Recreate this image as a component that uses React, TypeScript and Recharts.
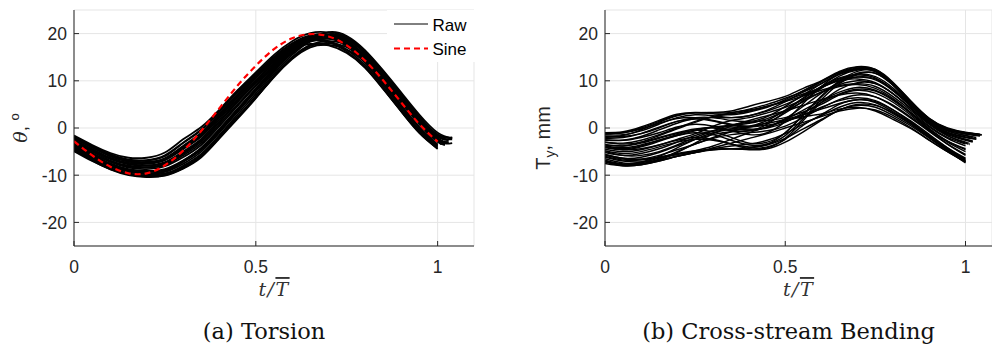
import React from 'react';
import { LineChart, Line, XAxis, YAxis, CartesianGrid, Legend } from 'recharts';

// Normalised time grid (t / T-bar)
const T_GRID = [0, 0.05, 0.1, 0.15, 0.2, 0.25, 0.3, 0.35, 0.4, 0.45, 0.5, 0.55, 0.6, 0.65, 0.7, 0.75, 0.8, 0.85, 0.9, 0.95, 1.0];

const X_TICKS = [0, 0.5, 1];
const Y_TICKS = [-20, -10, 0, 10, 20];

// (a) Torsion — fitted sine (deg)
const SINE_VALUES = [-2.8, -5.8, -8.2, -9.6, -9.6, -7.9, -4.8, -0.6, 4.2, 9.0, 13.2, 16.7, 19.0, 19.9, 19.4, 17.5, 14.3, 10.1, 5.4, 0.8, -2.9];

// (a) Torsion — raw cycles (deg)
const TORSION_RAW = [
  [-4.5, -6.8, -8.6, -9.8, -10.3, -10, -8.5, -6, -2, 2.3, 6.8, 11.5, 15.5, 18.5, 20.3, 19.5, 16.5, 12.2, 7.5, 2.8, -1],
  [-1.6, -3.6, -5.3, -6.3, -6.3, -5.2, -2.4, 0.2, 3.9, 8, 11.8, 15.5, 18.4, 20.1, 20.2, 18.6, 15.3, 11, 6.3, 1.8, -2],
  [-3.2, -5.3, -7.1, -8.2, -8.4, -7.8, -5.8, -3.2, 0.8, 5, 9.1, 13.2, 16.8, 18.9, 19.3, 18, 14.9, 10.5, 5.6, 0.8, -2.8],
  [-4.8, -6.6, -8.2, -9.3, -9.8, -9.6, -8.2, -5.8, -1.8, 2.4, 6.4, 10.8, 14.6, 17.1, 17.6, 16.6, 14, 10, 5.4, 0.8, -2.9],
  [-2, -4, -5.8, -7, -7.2, -6.4, -3.8, -1, 3, 7.2, 10.8, 14.2, 16.8, 17.8, 17.5, 15.9, 12.8, 8.3, 3.5, -1.1, -4.4],
  [-3.8, -6, -7.9, -9.1, -9.6, -9.3, -7.6, -5, -1, 3.4, 7.8, 12.3, 16.2, 19, 20.2, 19.2, 16, 11.6, 6.7, 2, -1.8],
  [-2.5, -4.5, -6.3, -7.4, -7.6, -6.8, -4.5, -1.8, 2.2, 6.5, 10.5, 14.5, 17.6, 19.5, 19.6, 17.8, 14.2, 9.6, 4.6, 0, -3.7],
  [-4.2, -6.3, -8.1, -9.3, -9.7, -9.2, -7.2, -4.5, -0.5, 3.8, 8, 12.2, 15.9, 18.3, 18.9, 17.9, 15, 10.8, 6, 1.3, -2.6],
  [-2.8, -4.8, -6.6, -7.7, -8, -7.4, -5.3, -2.6, 1.4, 5.8, 9.8, 13.8, 17.2, 19.2, 19.5, 18.2, 15.3, 11.2, 6.4, 1.7, -2.1],
  [-3.5, -5.6, -7.5, -8.7, -9.1, -8.7, -6.9, -4.3, -0.4, 3.9, 8.2, 12.6, 16.3, 18.6, 19.4, 18.7, 15.8, 11.7, 7, 2.3, -1.5],
  [-1.9, -3.8, -5.6, -6.8, -6.9, -6, -3.2, -0.5, 3.4, 7.6, 11.2, 14.8, 17.3, 18.5, 18.2, 16.2, 12.9, 8.4, 3.5, -1, -4.4],
  [-4.6, -6.9, -8.8, -10, -10.4, -10.1, -8.6, -6.2, -2.2, 2, 6.3, 11, 15, 17.6, 18.4, 17.6, 14.8, 10.8, 6.2, 1.6, -2.3],
  [-4.0, -6.2, -8.0, -9.2, -9.6, -9.1, -7.0, -4.2, -0.2, 4.1, 8.4, 12.7, 16.4, 18.8, 19.7, 18.9, 15.9, 11.6, 6.8, 2.0, -1.8],
  [-2.2, -4.2, -6.0, -7.1, -7.3, -6.5, -4.0, -1.3, 2.7, 7.0, 11.0, 14.9, 17.9, 19.6, 19.7, 18.0, 14.5, 9.9, 4.9, 0.2, -3.5],
  [-3.0, -5.0, -6.9, -8.0, -8.3, -7.6, -5.5, -2.8, 1.2, 5.5, 9.5, 13.5, 17.0, 19.0, 19.4, 18.1, 15.0, 10.7, 5.9, 1.1, -2.6],
  [-4.4, -6.6, -8.5, -9.6, -10.1, -9.8, -8.0, -5.5, -1.5, 2.9, 7.3, 11.9, 15.9, 18.7, 19.8, 19.2, 16.3, 12.0, 7.2, 2.4, -1.4],
  [-1.8, -3.9, -5.6, -6.7, -6.8, -5.8, -3.1, -0.3, 3.6, 7.8, 11.5, 15.1, 17.9, 19.3, 19.2, 17.3, 13.8, 9.2, 4.3, -0.4, -3.9],
  [-3.6, -5.8, -7.7, -8.9, -9.3, -8.9, -7.1, -4.6, -0.7, 3.6, 7.9, 12.3, 16.0, 18.4, 19.0, 18.2, 15.4, 11.4, 6.8, 2.1, -1.7],
  [-2.6, -4.6, -6.4, -7.6, -7.9, -7.2, -5.0, -2.3, 1.8, 6.1, 10.1, 14.1, 17.4, 19.4, 19.8, 18.4, 15.0, 10.5, 5.6, 0.9, -2.9],
  [-4.9, -7.0, -8.7, -9.8, -10.2, -9.9, -8.4, -6.0, -2.0, 2.2, 6.5, 11.0, 14.9, 17.4, 18.0, 17.1, 14.4, 10.5, 6.0, 1.4, -2.4],
  [-3.3, -5.4, -7.2, -8.4, -8.7, -8.1, -6.2, -3.6, 0.4, 4.7, 8.9, 13.0, 16.5, 18.6, 19.0, 17.8, 14.8, 10.6, 5.9, 1.2, -2.4],
  [-2.1, -4.1, -5.9, -7.1, -7.4, -6.7, -4.3, -1.6, 2.5, 6.8, 10.7, 14.4, 17.2, 18.6, 18.4, 16.6, 13.3, 8.8, 3.9, -0.7, -4.1],
];
// final point of each raw torsion cycle beyond t = 1 ([t, value] or null)
const TORSION_TAILS: (number[] | null)[] = [
  [1.04, -2.2], null, [1.02, -3.6], [1.04, -3.2], null, [1.03, -2.5],
  null, [1.02, -3.1], [1.02, -2.9], [1.04, -2.1], null, [1.03, -3.0],
  [1.04, -2.4], null, [1.02, -3.3], [1.04, -2.0], null, [1.03, -2.6],
  [1.01, -3.3], [1.03, -3.0], [1.02, -3.4], null,
];

// (b) Cross-stream bending — raw cycles (mm)
const BENDING_RAW = [
  [-1.0, -0.8, 0.2, 1.6, 2.9, 3.3, 3.2, 3.3, 4.0, 5.0, 6.3, 7.8, 9.8, 11.8, 12.9, 12.3, 9.3, 5.3, 1.8, -0.2, -1.0],
  [-1.5, -1.4, -0.6, 0.8, 2.2, 2.8, 2.6, 2.2, 2.6, 3.8, 5.6, 7.6, 9.4, 11.4, 12.5, 12.0, 9.0, 5.0, 1.6, -0.4, -1.2],
  [-2.5, -2.6, -2.0, -1.0, 0.2, 0.8, 0.4, -0.5, -0.6, 0.8, 3.5, 6.2, 8.6, 11.0, 12.3, 12.0, 9.2, 5.4, 2.0, -0.1, -1.0],
  [-3.5, -3.8, -3.2, -2.2, -1.2, -0.5, -0.8, -2.0, -3.2, -3.0, -1.0, 2.8, 6.6, 9.8, 11.6, 11.6, 9.0, 5.2, 1.6, -0.6, -1.6],
  [-4.5, -5.0, -4.6, -3.6, -2.4, -1.2, 0.4, 1.6, 2.2, 3.2, 4.4, 6.0, 7.6, 8.8, 9.2, 8.4, 6.2, 3.2, 0.2, -2.2, -3.8],
  [-7.0, -7.8, -7.4, -6.4, -5.6, -4.8, -3.8, -2.4, -1.0, 0.2, 1.5, 2.4, 3.0, 4.0, 4.4, 3.6, 1.8, -0.2, -2.6, -5.0, -7.2],
  [-6.0, -6.8, -6.8, -6.2, -5.4, -4.8, -4.5, -4.4, -4.5, -4.0, -2.4, 0.6, 2.8, 5.0, 6.0, 5.4, 3.4, 1.0, -1.8, -4.4, -6.6],
  [-7.5, -8.0, -7.8, -6.8, -5.2, -3.2, -1.2, 0.4, 1.6, 2.6, 3.6, 4.8, 6.0, 7.0, 7.4, 6.6, 4.6, 2.0, -0.8, -3.4, -5.6],
  [-3.0, -3.2, -2.6, -1.4, 0.0, 1.4, 2.4, 3.0, 3.6, 4.6, 5.8, 7.2, 8.6, 10.0, 10.4, 9.6, 7.2, 4.0, 0.8, -1.4, -2.6],
  [-6.5, -7.4, -7.6, -7.0, -6.0, -5.2, -4.6, -4.4, -4.6, -4.4, -3.0, -0.8, 1.6, 3.8, 4.8, 4.4, 2.6, 0.4, -2.2, -4.8, -7.4],
  [-2.0, -1.6, -0.4, 1.2, 2.6, 3.2, 3.3, 3.6, 4.6, 5.6, 6.7, 8.4, 10.0, 12.0, 13.0, 12.4, 9.4, 5.4, 1.8, -0.2, -1.0],
  [-5.0, -5.8, -5.8, -5.0, -3.6, -2.0, -0.6, 0.6, 1.2, 1.6, 2.2, 3.4, 5.0, 7.0, 8.0, 7.4, 5.4, 2.6, -0.4, -3.0, -5.0],
  [-1.2, -1.0, -0.2, 1.0, 2.0, 2.2, 1.6, 0.8, 0.4, 1.2, 3.2, 5.8, 8.4, 10.4, 11.2, 10.6, 8.0, 4.6, 1.2, -1.0, -2.0],
  [-6.8, -7.6, -7.2, -6.0, -4.2, -2.4, -1.0, -0.2, 0.2, 0.6, 1.4, 2.8, 4.4, 5.8, 6.4, 5.8, 3.8, 1.2, -1.6, -4.2, -6.4],
  [-4.0, -4.6, -4.4, -3.6, -2.6, -2.0, -2.4, -3.4, -4.4, -4.2, -2.2, 1.6, 5.4, 8.2, 9.6, 9.4, 7.2, 4.0, 0.8, -1.6, -3.0],
  [-3.0, -3.4, -3.0, -2.0, -1.0, -0.2, 0.0, -0.6, -1.4, -1.0, 1.4, 5.2, 8.8, 11.4, 12.6, 12.4, 9.6, 5.6, 2.0, 0.0, -0.9],
  [-1.3, -1.0, 0.0, 1.4, 2.7, 3.2, 3.0, 2.8, 3.4, 4.4, 6.0, 7.9, 9.9, 11.7, 12.7, 12.2, 9.2, 5.2, 1.7, -0.3, -1.1],
  [-2.2, -2.0, -1.2, 0.2, 1.4, 1.9, 1.5, 0.6, 0.4, 1.6, 3.8, 6.4, 8.8, 10.6, 11.4, 10.9, 8.4, 4.8, 1.4, -0.9, -1.9],
  [-4.2, -4.6, -4.0, -2.8, -1.6, -0.6, 0.2, 0.6, 1.0, 2.0, 3.6, 5.6, 7.6, 9.2, 10.0, 9.4, 7.2, 4.0, 0.8, -1.6, -3.2],
  [-7.2, -8.0, -7.8, -7.0, -6.0, -5.2, -4.4, -3.8, -3.4, -2.6, -1.2, 0.8, 2.6, 4.4, 5.4, 4.9, 3.0, 0.7, -2.0, -4.6, -7.0],
  [-5.6, -6.4, -6.2, -5.2, -3.8, -2.4, -1.4, -0.8, -0.6, 0.2, 1.8, 3.8, 5.8, 7.6, 8.6, 8.0, 6.0, 3.0, -0.2, -2.8, -4.6],
  [-4.8, -5.4, -5.0, -4.0, -3.0, -2.4, -2.6, -3.4, -4.0, -3.4, -1.0, 2.8, 6.8, 10.0, 12.0, 12.1, 9.4, 5.5, 1.8, -0.4, -1.3],
  [-5.8, -6.6, -6.6, -5.8, -4.6, -3.4, -2.2, -1.4, -1.0, -0.6, 0.4, 2.2, 4.2, 6.0, 7.0, 6.6, 4.8, 2.2, -0.6, -3.4, -5.8],
  [-2.6, -2.6, -1.8, -0.4, 1.0, 2.0, 2.2, 2.2, 2.6, 3.6, 5.0, 6.8, 8.6, 10.2, 10.8, 10.2, 7.8, 4.4, 1.0, -1.2, -2.4],
  [-6.2, -7.0, -7.2, -6.8, -6.0, -5.2, -4.2, -3.2, -2.2, -1.2, 0.0, 1.2, 2.4, 3.6, 4.2, 3.8, 2.2, 0.0, -2.6, -5.0, -7.2],
  [-3.8, -4.2, -3.6, -2.6, -1.6, -1.0, -1.4, -2.6, -3.6, -3.4, -1.6, 2.0, 6.0, 9.4, 11.4, 11.6, 9.0, 5.2, 1.6, -0.6, -1.6],
  [-3.6, -3.8, -3.0, -1.6, -0.2, 1.2, 2.4, 3.2, 3.8, 4.6, 5.6, 6.8, 8.0, 9.0, 9.4, 8.8, 6.6, 3.6, 0.4, -2.0, -3.4],
  [-7.0, -7.8, -7.6, -6.6, -5.0, -3.4, -2.0, -0.8, 0.2, 1.0, 1.8, 2.8, 4.0, 5.2, 6.0, 5.6, 3.8, 1.4, -1.4, -4.2, -6.8],
  [-1.8, -1.8, -1.2, 0.0, 1.4, 2.2, 2.2, 1.6, 1.4, 2.4, 4.6, 7.0, 9.4, 11.4, 12.4, 12.0, 9.2, 5.3, 1.8, -0.2, -1.1],
  [-4.0, -4.4, -3.8, -2.6, -1.4, -0.4, 0.2, 0.2, -0.2, 0.0, 1.2, 3.2, 5.4, 7.2, 8.2, 7.8, 5.8, 3.0, -0.2, -2.8, -4.4],
  [-5.6, -6.4, -6.6, -6.2, -5.6, -5.0, -4.6, -4.4, -4.2, -3.6, -2.2, -0.2, 1.8, 3.8, 5.0, 4.8, 3.2, 0.8, -2.0, -4.6, -7.0],
  [-5.2, -5.8, -5.4, -4.4, -3.0, -1.6, -0.6, -0.2, -0.4, 0.2, 2.0, 4.6, 7.4, 9.6, 10.8, 10.4, 8.0, 4.6, 1.2, -1.2, -2.4],
];
const BENDING_TAILS: (number[] | null)[] = [
  [1.04, -1.4], [1.04, -1.6], [1.03, -1.5], [1.02, -2.0], null, null, null, null,
  [1.02, -3.0], null, [1.045, -1.4], null, [1.03, -2.4], null, [1.01, -3.3], [1.04, -1.3],
  [1.04, -1.5], [1.03, -2.3], [1.01, -3.5], null, null, [1.04, -1.7], null, [1.02, -2.8],
  null, [1.03, -2.0], null, null, [1.045, -1.5], null, null, [1.02, -2.8],
];

const LEGEND_LABELS = ['Raw', 'Sine'];
const CAPTIONS = ['(a) Torsion', '(b) Cross-stream Bending'];

const toSeries = (values: number[], tail: number[] | null) => {
  const pts = values.map((y, i) => ({ t: T_GRID[i], y }));
  if (tail) pts.push({ t: tail[0], y: tail[1] });
  return pts;
};

const AXIS_COLOR = '#262626';
const GRID_COLOR = '#e5e5e5';
const SANS = '"Liberation Sans", Arial, Helvetica, sans-serif';
const SERIF_CM = '"DejaVu Serif", "Liberation Serif", serif';

const XTick = (props: any) => {
  const { x, y, payload } = props;
  return (
    <g>
      <line x1={x} y1={y} x2={x} y2={y - 5} stroke={AXIS_COLOR} strokeWidth={1} />
      <text x={x} y={y + 27} textAnchor="middle" fontFamily={SANS} fontSize={17.5} fill={AXIS_COLOR}>
        {String(payload.value)}
      </text>
    </g>
  );
};

const YTick = (props: any) => {
  const { x, y, payload } = props;
  return (
    <g>
      <line x1={x} y1={y} x2={x + 5} y2={y} stroke={AXIS_COLOR} strokeWidth={1} />
      <text x={x - 7} y={y + 6.3} textAnchor="end" fontFamily={SANS} fontSize={17.5} fill={AXIS_COLOR}>
        {String(payload.value)}
      </text>
    </g>
  );
};

const makeXLabel = (caption: string) => (props: any) => {
  const vb = props.viewBox;
  const cx = vb.x + vb.width / 2;
  return (
    <g>
      <text x={cx} y={vb.y + 50} textAnchor="middle" fontFamily={SERIF_CM} fontStyle="italic" fontSize={19} fill="#333" letterSpacing={1.5}>
        t/<tspan style={{ textDecoration: 'overline' }}>T</tspan>
      </text>
      <text x={cx - 10} y={vb.y + 93} textAnchor="middle" fontFamily={SERIF_CM} fontSize={22.5} fill="#111">
        {caption}
      </text>
    </g>
  );
};

const ThetaLabel = (props: any) => {
  const vb = props.viewBox;
  const cy = vb.y + vb.height / 2;
  return (
    <g transform={`translate(${vb.x + 27}, ${cy}) rotate(-90)`}>
      <text x={0} y={0} textAnchor="middle" fontFamily={SANS} fontSize={19} fill={AXIS_COLOR}>
        <tspan fontFamily={SERIF_CM} fontStyle="italic">θ</tspan>
        <tspan>, </tspan>
        <tspan dy={-8} fontSize={13}>o</tspan>
      </text>
    </g>
  );
};

const TyLabel = (props: any) => {
  const vb = props.viewBox;
  const cy = vb.y + vb.height / 2 + 10;
  return (
    <g transform={`translate(${vb.x + 50}, ${cy}) rotate(-90)`}>
      <text x={0} y={0} textAnchor="middle" fontFamily={SANS} fontSize={20} fill={AXIS_COLOR}>
        <tspan>T</tspan>
        <tspan dy={5} fontSize={14}>y</tspan>
        <tspan dy={-5}>, mm</tspan>
      </text>
    </g>
  );
};

const LegendBox = () => (
  <div style={{ background: '#fff', width: 88, height: 52 }}>
    <svg width={88} height={52}>
      <line x1={7} y1={14} x2={41} y2={14} stroke="#000" strokeWidth={1} />
      <text x={45.5} y={21} fontFamily={SANS} fontSize={17} fill="#000">{LEGEND_LABELS[0]}</text>
      <line x1={7} y1={38.5} x2={41} y2={38.5} stroke="#ff0000" strokeWidth={2.2} strokeDasharray="6 4" />
      <text x={45.5} y={45} fontFamily={SANS} fontSize={17} fill="#000">{LEGEND_LABELS[1]}</text>
    </svg>
  </div>
);

const torsionSeries = TORSION_RAW.map((v, i) => toSeries(v, TORSION_TAILS[i]));
const sineSeries = toSeries(SINE_VALUES, null);
const bendingSeries = BENDING_RAW.map((v, i) => toSeries(v, BENDING_TAILS[i]));

const MARGIN = { top: 10, right: 6, bottom: 72, left: 0 };

export default function App() {
  return (
    <div style={{ position: 'absolute', left: 0, top: 0, width: 992, height: 348, background: '#fff', overflow: 'hidden' }}>
      <div style={{ position: 'absolute', left: 0, top: 0 }}>
        <LineChart width={480} height={348} margin={MARGIN}>
          <CartesianGrid stroke={GRID_COLOR} strokeWidth={1} />
          <XAxis
            type="number"
            dataKey="t"
            domain={[0, 1.1]}
            ticks={X_TICKS}
            allowDataOverflow
            height={30}
            tickSize={0}
            tickMargin={0}
            tickLine={false}
            axisLine={{ stroke: AXIS_COLOR }}
            tick={<XTick />}
            label={{ content: makeXLabel(CAPTIONS[0]) }}
          />
          <YAxis
            type="number"
            dataKey="y"
            domain={[-25, 25]}
            ticks={Y_TICKS}
            allowDataOverflow
            width={74}
            tickSize={0}
            tickMargin={0}
            tickLine={false}
            axisLine={{ stroke: AXIS_COLOR }}
            tick={<YTick />}
            label={{ content: ThetaLabel }}
          />
          {torsionSeries.map((s, i) => (
            <Line
              key={`tr${i}`}
              data={s}
              dataKey="y"
              type="natural"
              stroke="#000"
              strokeWidth={1.8}
              dot={false}
              activeDot={false}
              isAnimationActive={false}
            />
          ))}
          <Line
            data={sineSeries}
            dataKey="y"
            type="natural"
            stroke="#ff0000"
            strokeWidth={2.2}
            strokeDasharray="6 4"
            dot={false}
            activeDot={false}
            isAnimationActive={false}
          />
          <Legend
            layout="vertical"
            align="center"
            verticalAlign="middle"
            wrapperStyle={{ left: 387, top: 10, width: 88, height: 52 }}
            content={<LegendBox />}
          />
        </LineChart>
      </div>
      <div style={{ position: 'absolute', left: 500, top: 0 }}>
        <LineChart width={492} height={348} margin={{ ...MARGIN, right: 0 }}>
          <CartesianGrid stroke={GRID_COLOR} strokeWidth={1} />
          <XAxis
            type="number"
            dataKey="t"
            domain={[0, 1.0735]}
            ticks={X_TICKS}
            allowDataOverflow
            height={30}
            tickSize={0}
            tickMargin={0}
            tickLine={false}
            axisLine={{ stroke: AXIS_COLOR }}
            tick={<XTick />}
            label={{ content: makeXLabel(CAPTIONS[1]) }}
          />
          <YAxis
            type="number"
            dataKey="y"
            domain={[-25, 25]}
            ticks={Y_TICKS}
            allowDataOverflow
            width={105}
            tickSize={0}
            tickMargin={0}
            tickLine={false}
            axisLine={{ stroke: AXIS_COLOR }}
            tick={<YTick />}
            label={{ content: TyLabel }}
          />
          {bendingSeries.map((s, i) => (
            <Line
              key={`bd${i}`}
              data={s}
              dataKey="y"
              type="natural"
              stroke="#000"
              strokeWidth={1.45}
              dot={false}
              activeDot={false}
              isAnimationActive={false}
            />
          ))}
        </LineChart>
      </div>
    </div>
  );
}
